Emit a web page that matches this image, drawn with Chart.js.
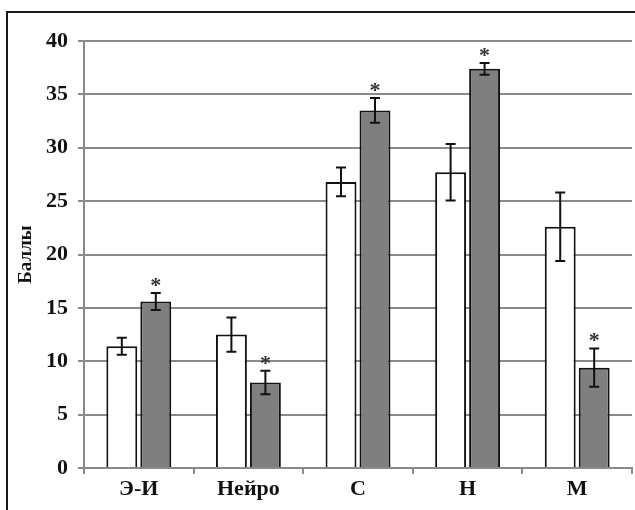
<!DOCTYPE html>
<html>
<head>
<meta charset="utf-8">
<script src="https://cdn.jsdelivr.net/npm/chart.js@4.4.1/dist/chart.umd.min.js"></script>
<style>
  body { margin: 0; background: #fff; }
  #wrap { position: relative; width: 635px; height: 510px; overflow: hidden; }
  #frame { position: absolute; left: 6px; top: 11px; width: 700px; height: 600px;
           border-left: 2px solid #1a1a1a; border-top: 2px solid #1a1a1a; }
  canvas { position: absolute; left: 0; top: 0; }
</style>
</head>
<body>
<div id="wrap">
  <div id="frame"></div>
  <canvas id="chart" width="635" height="510"></canvas>
</div>
<script>
// categories and values
const categories = ['Э-И', 'Нейро', 'С', 'Н', 'М'];
const whiteValues = [11.4, 12.5, 26.8, 27.7, 22.6];
const whiteErrors = [0.8, 1.6, 1.35, 2.65, 3.2];
const grayValues = [15.6, 8.0, 33.5, 37.4, 9.4];
const grayErrors = [0.8, 1.1, 1.15, 0.55, 1.8];
const grayStars = [true, true, true, true, true];
const yTicks = [0, 5, 10, 15, 20, 25, 30, 35, 40];

const errorSets = [whiteErrors, grayErrors];
const starSets = [null, grayStars];

// error bars + significance asterisks
const errorBarPlugin = {
    id: 'errorBars',
    afterDatasetsDraw(chart) {
        const ctx = chart.ctx;
        const yScale = chart.scales.y;
        chart.data.datasets.forEach((ds, di) => {
            const meta = chart.getDatasetMeta(di);
            const errs = errorSets[di];
            meta.data.forEach((bar, i) => {
                const v = ds.data[i];
                const top = yScale.getPixelForValue(v + errs[i]);
                const bottom = yScale.getPixelForValue(v - errs[i]);
                ctx.save();
                ctx.strokeStyle = '#111';
                ctx.lineWidth = 2;
                ctx.beginPath();
                ctx.moveTo(bar.x, top);
                ctx.lineTo(bar.x, bottom);
                ctx.moveTo(bar.x - 5, top);
                ctx.lineTo(bar.x + 5, top);
                ctx.moveTo(bar.x - 5, bottom);
                ctx.lineTo(bar.x + 5, bottom);
                ctx.stroke();
                if (starSets[di] && starSets[di][i]) {
                    ctx.fillStyle = '#333';
                    ctx.font = 'bold 22px "Liberation Serif"';
                    ctx.textAlign = 'center';
                    ctx.textBaseline = 'alphabetic';
                    ctx.fillText('*', bar.x, top - 1);
                }
                ctx.restore();
            });
        });
    }
};

const tickFont = { family: 'Liberation Serif', size: 22, weight: 'bold' };
const titleFont = { family: 'Liberation Serif', size: 19, weight: 'bold' };

new Chart(document.getElementById('chart'), {
    type: 'bar',
    data: {
        labels: categories,
        datasets: [
            {
                data: whiteValues,
                backgroundColor: '#ffffff',
                borderColor: '#111111',
                borderWidth: 2,
                categoryPercentage: 0.62,
                barPercentage: 0.91
            },
            {
                data: grayValues,
                backgroundColor: '#7f7f7f',
                borderColor: '#111111',
                borderWidth: 2,
                categoryPercentage: 0.62,
                barPercentage: 0.91
            }
        ]
    },
    options: {
        responsive: false,
        animation: false,
        layout: { padding: { left: 8, top: 41, right: 3, bottom: 0 } },
        plugins: {
            legend: { display: false },
            tooltip: { enabled: false }
        },
        scales: {
            x: {
                grid: {
                    offset: true,
                    drawOnChartArea: false,
                    drawTicks: true,
                    tickLength: 6,
                    color: '#8a8a8a',
                    lineWidth: 2
                },
                border: { color: '#8a8a8a', width: 2 },
                ticks: { color: '#111', font: tickFont, padding: 2 },
                afterFit: s => { s.height = 42; }
            },
            y: {
                min: 0,
                max: 40,
                afterBuildTicks: s => { s.ticks = yTicks.map(v => ({ value: v })); },
                grid: { color: '#8a8a8a', lineWidth: 2, tickLength: 6 },
                border: { color: '#8a8a8a', width: 2 },
                ticks: { color: '#111', font: tickFont, padding: 10 },
                title: {
                    display: true,
                    text: 'Баллы',
                    color: '#111',
                    font: titleFont,
                    padding: { top: 7, bottom: 0 }
                },
                afterFit: s => { s.width = 76; }
            }
        }
    },
    plugins: [errorBarPlugin]
});
</script>
</body>
</html>
